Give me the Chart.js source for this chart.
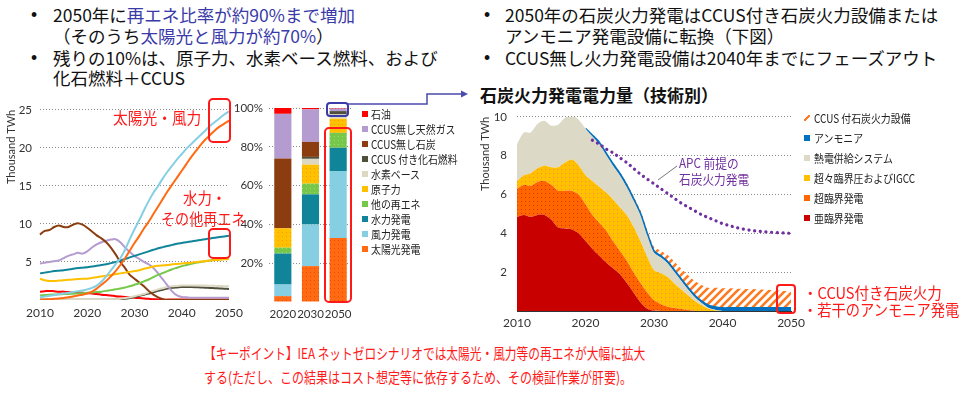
<!DOCTYPE html>
<html><head><meta charset="utf-8">
<script src="https://cdn.jsdelivr.net/npm/chart.js@4.4.1/dist/chart.umd.min.js"></script>
<style>
html,body{margin:0;padding:0;background:#fff;}
#root{position:relative;width:960px;height:398px;overflow:hidden;font-family:"Noto Sans CJK JP","Noto Sans",sans-serif;color:#111;}
.t{position:absolute;white-space:nowrap;line-height:20px;font-size:17.5px;}
.c{transform-origin:left center;}
canvas{position:absolute;}
.b{color:#3a3aa8;}
.r{color:#ff1a1a;}
.lg{position:absolute;white-space:nowrap;font-size:11.5px;line-height:14px;color:#222;transform-origin:left center;}
.sw{position:absolute;width:6px;height:6px;}
svg{position:absolute;left:0;top:0;}
</style></head>
<body>
<div id="root">
  <div class="t" style="left:31px;top:5px;font-family:'Liberation Sans'">•</div>
  <div class="t" style="left:53px;top:5px">2050年に<span class="b">再エネ比率が約90%まで増加</span></div>
  <div class="t" style="left:53px;top:26px">（そのうち<span class="b">太陽光と風力が約70%</span>）</div>
  <div class="t" style="left:31px;top:48px;font-family:'Liberation Sans'">•</div>
  <div class="t" style="left:53px;top:48px">残りの10%は、原子力、水素ベース燃料、および</div>
  <div class="t" style="left:53px;top:68px">化石燃料＋CCUS</div>

  <div class="t" style="left:484px;top:5px;font-family:'Liberation Sans'">•</div>
  <div class="t" style="left:505px;top:5px">2050年の石炭火力発電はCCUS付き石炭火力設備または</div>
  <div class="t" style="left:505px;top:26px">アンモニア発電設備に転換（下図）</div>
  <div class="t" style="left:484px;top:48px;font-family:'Liberation Sans'">•</div>
  <div class="t" style="left:505px;top:48px">CCUS無し火力発電設備は2040年までにフェーズアウト</div>
  <div class="t" style="left:480px;top:85px;font-size:17px;font-weight:bold">石炭火力発電電力量（技術別）</div>

  <canvas id="lineChart" width="250" height="230" style="left:0;top:95px"></canvas>
  <canvas id="barChart" width="135" height="230" style="left:225px;top:95px"></canvas>
  <canvas id="areaChart" width="330" height="235" style="left:480px;top:100px"></canvas>

  <div class="t c r" style="left:113px;top:107px;font-size:16px;transform:scaleX(0.92)">太陽光・風力</div>
  <div class="t c r" style="left:183px;top:187px;font-size:16px;transform:scaleX(0.9)">水力・</div>
  <div class="t c r" style="left:161px;top:208px;font-size:16px;transform:scaleX(0.88)">その他再エネ</div>

  <div class="t c" style="left:679px;top:153px;font-size:13px;color:#7030a0;transform:scaleX(0.9)">APC 前提の</div>
  <div class="t c" style="left:679px;top:169px;font-size:13px;color:#7030a0;transform:scaleX(0.9)">石炭火力発電</div>

  <div class="t c r" style="left:803px;top:282px;font-size:15.5px;transform:scaleX(0.94)">・CCUS付き石炭火力</div>
  <div class="t c r" style="left:803px;top:299px;font-size:15.5px;transform:scaleX(0.92)">・若干のアンモニア発電</div>

  <div class="t c r" style="left:204px;top:343px;font-size:15px;transform:scaleX(0.78)">【キーポイント】IEA ネットゼロシナリオでは太陽光・風力等の再エネが大幅に拡大</div>
  <div class="t c r" style="left:204px;top:367px;font-size:15px;transform:scaleX(0.8)">する(ただし、この結果はコスト想定等に依存するため、その検証作業が肝要)。</div>

  <svg width="960" height="398">
    <rect x="209" y="99" width="21" height="43" rx="4" fill="none" stroke="#ff1a1a" stroke-width="2"/>
    <rect x="209" y="229" width="21" height="29" rx="4" fill="none" stroke="#ff1a1a" stroke-width="2"/>
    <rect x="325" y="128" width="26" height="174" rx="4" fill="none" stroke="#ff1a1a" stroke-width="2"/>
    <rect x="777" y="285" width="18" height="28" rx="3" fill="none" stroke="#ff1a1a" stroke-width="2"/>
    <rect x="327" y="103" width="21" height="13" rx="3" fill="none" stroke="#3a3aa8" stroke-width="2"/>
    <polyline points="348,104 427,104 427,94 462,94" fill="none" stroke="#4a4ab0" stroke-width="1.5"/>
    <polygon points="468,94 461,90.5 461,97.5" fill="#4a4ab0"/>
    <line x1="658" y1="180" x2="677" y2="166" stroke="#777" stroke-width="1"/>
  </svg>
</div>
<script>
// ---------- Left chart: electricity generation by source (Thousand TWh) ----------
const years = [2010,2011,2012,2013,2014,2015,2016,2017,2018,2019,2020,2021,2022,2023,2024,2025,2026,2027,2028,2029,2030,2031,2032,2033,2034,2035,2036,2037,2038,2039,2040,2041,2042,2043,2044,2045,2046,2047,2048,2049,2050];
const yearTicks = [2010,2020,2030,2040,2050];

const windTWh     = [0.35,0.45,0.55,0.65,0.75,0.85,0.95,1.05,1.15,1.25,1.4, 1.6,1.9,2.4,3.1,3.9,4.7,5.5,6.6,8.0,9.3, 10.5,11.8,13.0,14.1,15.0,16.0,16.9,17.7,18.5,19.2, 19.9,20.5,21.1,21.7,22.3,22.9,23.4,23.9,24.4,24.8];
const solarTWh    = [0.05,0.08,0.1,0.15,0.2,0.25,0.35,0.45,0.6,0.7,0.85, 1.1,1.5,2.0,2.5,3.1,3.8,4.6,5.5,6.5,7.5, 8.4,9.4,10.3,11.3,12.3,13.3,14.3,15.2,16.1,17.0, 17.9,18.8,19.6,20.4,21.1,21.7,22.3,22.8,23.2,23.6];
const hydroTWh    = [3.5,3.6,3.7,3.8,3.85,3.9,4.0,4.1,4.2,4.25,4.3, 4.4,4.5,4.6,4.7,4.85,5.0,5.2,5.4,5.6,5.8, 6.0,6.2,6.4,6.6,6.8,6.95,7.1,7.25,7.4,7.5, 7.6,7.7,7.8,7.9,8.0,8.1,8.2,8.3,8.35,8.45];
const nuclearTWh  = [2.8,2.6,2.5,2.5,2.55,2.6,2.65,2.7,2.75,2.8,2.8, 2.9,3.0,3.1,3.2,3.3,3.4,3.5,3.6,3.7,3.8, 3.9,4.1,4.25,4.4,4.5,4.55,4.6,4.7,4.75,4.8, 4.85,4.9,5.0,5.05,5.1,5.2,5.25,5.3,5.35,5.4];
const otherRenTWh = [0.6,0.65,0.7,0.72,0.75,0.78,0.8,0.83,0.86,0.9,0.95, 1.0,1.05,1.1,1.2,1.3,1.4,1.5,1.65,1.8,2.0, 2.2,2.45,2.7,3.0,3.3,3.55,3.8,4.05,4.25,4.45, 4.6,4.75,4.9,5.0,5.1,5.2,5.3,5.35,5.4,5.45];
const coalTWh     = [8.6,9.1,9.2,9.6,9.8,9.6,9.6,9.9,10.1,9.9,9.5, 9.0,8.5,8.1,7.6,6.9,6.0,5.0,4.2,3.3,2.8, 2.3,1.8,1.2,0.7,0.35,0.1,0,0,0,0, 0,0,0,0,0,0,0,0,0,0];
const gasTWh      = [4.8,4.9,5.0,5.1,5.2,5.5,5.8,6.0,6.2,6.1,6.4, 6.9,7.3,7.6,7.8,7.95,8.0,7.6,6.9,6.3,5.8, 5.4,5.0,4.7,4.2,3.5,2.7,1.9,1.1,0.6,0.4, 0.35,0.3,0.3,0.3,0.3,0.3,0.3,0.3,0.3,0.3];
const hydrogenTWh = [0.05,0.05,0.05,0.05,0.05,0.05,0.05,0.05,0.05,0.05,0.05, 0.05,0.05,0.05,0.05,0.05,0.1,0.15,0.25,0.35,0.5, 0.65,0.8,1.0,1.2,1.4,1.55,1.7,1.8,1.85,1.9, 1.9,1.9,1.9,1.9,1.9,1.88,1.86,1.84,1.82,1.8];
const ccusFossilTWh = [0.02,0.02,0.02,0.02,0.02,0.02,0.02,0.02,0.02,0.02,0.02, 0.02,0.02,0.02,0.03,0.04,0.06,0.1,0.17,0.27,0.4, 0.55,0.7,0.85,1.0,1.2,1.35,1.5,1.6,1.65,1.7, 1.7,1.7,1.68,1.65,1.62,1.58,1.55,1.52,1.48,1.45];
const oilTWh      = [1.1,1.15,1.2,1.15,1.1,1.1,1.05,1.0,1.0,0.95,0.9, 0.85,0.8,0.7,0.65,0.6,0.5,0.45,0.4,0.35,0.3, 0.25,0.2,0.15,0.1,0.08,0.05,0.05,0.05,0.05,0.05, 0.05,0.05,0.05,0.05,0.05,0.05,0.05,0.05,0.05,0.05];

// ---------- Middle chart: share of generation (%) ----------
const shareYears = ['2020','2030','2050'];
const shareSolar    = [3, 18.5, 33];
const shareWind     = [6, 21.5, 34.5];
const shareHydro    = [16, 15.5, 12];
const shareOtherRen = [3, 5.5, 7.7];
const shareNuclear  = [10, 9.8, 7.3];
const shareHydrogen = [0, 3, 2.2];
const shareCcus     = [0, 1, 1.7];
const shareCoal     = [36, 7.7, 0];
const shareGas      = [23, 16.8, 1.3];
const shareOil      = [3, 0.7, 0.3];

// ---------- Right chart: coal power generation by technology (Thousand TWh) ----------
const subcritical   = [4.85,4.95,4.85,4.95,4.95,4.7,4.3,4.25,4.2,4.0,3.6, 3.2,2.85,2.5,2.2,1.9,1.45,0.95,0.45,0.12,0.02, 0,0,0,0,0,0,0,0,0,0, 0,0,0,0,0,0,0,0,0,0];
const supercritical = [1.45,1.55,1.6,1.7,1.75,1.8,1.9,1.95,2.0,2.0,1.9, 1.75,1.7,1.65,1.4,1.2,1.15,1.05,1.0,0.83,0.53, 0.35,0.22,0.15,0.1,0.05,0,0,0,0,0, 0,0,0,0,0,0,0,0,0,0];
const ultraIgcc     = [0.4,0.5,0.65,0.7,0.8,0.9,1.2,1.45,1.6,1.5,1.5, 1.75,1.85,1.95,2.15,2.25,2.35,2.35,2.15,1.85,1.55, 1.6,1.53,1.25,1.0,0.75,0.5,0.28,0.12,0.03,0, 0,0,0,0,0,0,0,0,0,0];
const chp           = [1.9,2.2,2.1,2.3,2.3,2.15,2.2,2.3,2.3,2.35,2.4, 2.3,2.2,1.95,1.75,1.65,1.45,1.35,1.35,1.1,0.9, 0.8,0.7,0.6,0.45,0.3,0.2,0.12,0.03,0.02,0, 0,0,0,0,0,0,0,0,0,0];
const ammonia       = [0,0,0,0,0,0,0,0,0,0,0, 0.05,0.08,0.08,0.08,0.08,0.08,0.08,0.08,0.08,0.08, 0.08,0.08,0.08,0.08,0.08,0.08,0.08,0.12,0.15,0.15, 0.15,0.15,0.15,0.15,0.15,0.15,0.15,0.15,0.15,0.15];
const ccusCoal      = [0,0,0,0,0,0,0,0,0,0,0, 0,0,0.03,0.05,0.08,0.12,0.15,0.18,0.2,0.22, 0.28,0.35,0.45,0.55,0.65,0.75,0.85,0.92,1.0,1.02, 1.02,1.0,1.0,0.98,0.97,0.95,0.93,0.9,0.88,0.85];
const apcCoal       = [null,null,null,null,null,null,null,null,null,null,null, 8.8,8.6,8.35,8.15,7.9,7.65,7.35,7.05,6.8,6.55, 6.3,6.05,5.8,5.55,5.35,5.15,4.95,4.8,4.65,4.5, 4.4,4.3,4.22,4.16,4.12,4.08,4.06,4.04,4.02,4.0];

const barLegend = ['石油','CCUS無し天然ガス','CCUS無し石炭','CCUS 付き化石燃料','水素ベース','原子力','他の再エネ','水力発電','風力発電','太陽光発電'];
const areaLegend = ['CCUS 付石炭火力設備','アンモニア','熱電併給システム','超々臨界圧およびIGCC','超臨界発電','亜臨界発電'];

// colours
const C = {oil:'#ff0000', gas:'#b49bd0', coal:'#8b3d10', ccus:'#4f4f3c', h2:'#dcd8c2', nuc:'#ffc000', oth:'#77c84a', hyd:'#10859a', wind:'#86cfe3', solar:'#ff6a13'};
const R = {sub:'#c80000', sup:'#ff6600', ultra:'#ffc000', chp:'#dcdac6', nh3:'#0070c0', ccus:'#ff7a20', apc:'#7030a0'};

function dots(base, dot){ const c=document.createElement('canvas'); c.width=4; c.height=4; const x=c.getContext('2d'); x.fillStyle=base; x.fillRect(0,0,4,4); x.fillStyle=dot; x.fillRect(1,1,1,1); return x.createPattern(c,'repeat'); }
function hatch(col){ const c=document.createElement('canvas'); c.width=8; c.height=8; const x=c.getContext('2d'); x.fillStyle='#fff'; x.fillRect(0,0,8,8); x.strokeStyle=col; x.lineWidth=2.6; x.beginPath(); x.moveTo(-2,10); x.lineTo(10,-2); x.moveTo(-2,2); x.lineTo(2,-2); x.moveTo(6,10); x.lineTo(10,6); x.stroke(); return x.createPattern(c,'repeat'); }

const tickFont = {family:'Lato', size:12};
const dotted = {display:false, dash:[1,2]};
const gridCol = ctx => (ctx.tick && ctx.tick.value === 0) ? 'rgba(0,0,0,0)' : '#8a8a8a';

Chart.defaults.font.family = 'Lato';
Chart.defaults.color = '#333';

// Left line chart
function ln(data, color){ return {data, borderColor:color, backgroundColor:color, borderWidth:2, pointRadius:0, tension:0.3, fill:false}; }
new Chart(document.getElementById('lineChart'), {
  type:'line',
  data:{labels:years, datasets:[
    ln(windTWh, C.wind), ln(solarTWh, C.solar), ln(hydroTWh, C.hyd), ln(nuclearTWh, C.nuc), ln(otherRenTWh, C.oth),
    ln(coalTWh, C.coal), ln(gasTWh, C.gas), ln(hydrogenTWh, C.h2), ln(ccusFossilTWh, C.ccus), ln(oilTWh, C.oil)
  ]},
  options:{
    animation:false, responsive:false, devicePixelRatio:1,
    layout:{padding:{top:12, right:21, left:0, bottom:0}},
    plugins:{legend:{display:false}, tooltip:{enabled:false}},
    scales:{
      x:{grid:{display:false, drawTicks:false}, border:{display:false},
         ticks:{autoSkip:false, maxRotation:0, padding:6, font:tickFont, color:'#333',
                callback:(v,i)=> yearTicks.includes(years[i]) ? String(years[i]) : ''},
         afterFit:s=>{s.height=25;}},
      y:{min:0, max:25, grid:{color:gridCol, drawTicks:false, lineWidth:1}, border:dotted,
         ticks:{stepSize:5, padding:8, font:{family:'Lato', size:11.5}, color:'#333', callback:v=> v===0 ? '' : v},
         title:{display:true, text:'Thousand TWh', align:'end', color:'#333', font:{family:'Lato', size:11, lineHeight:1}, padding:{top:6, bottom:0}},
         afterFit:s=>{s.width=40;}}
    }
  }
});

// Middle stacked bar chart
function br(data, color){ return {data, backgroundColor:color, borderWidth:0, categoryPercentage:1, barPercentage:0.62}; }
new Chart(document.getElementById('barChart'), {
  type:'bar',
  data:{labels:shareYears, datasets:[
    br(shareSolar, dots(C.solar,'#f04a00')), br(shareWind, C.wind), br(shareHydro, C.hyd), br(shareOtherRen, dots(C.oth,'#9ad870')),
    br(shareNuclear, dots(C.nuc,'#ff9a00')), br(shareHydrogen, C.h2), br(shareCcus, C.ccus), br(shareCoal, C.coal), br(shareGas, C.gas), br(shareOil, C.oil)
  ]},
  options:{
    animation:false, responsive:false, devicePixelRatio:1,
    layout:{padding:{top:13, right:8, left:0, bottom:0}},
    plugins:{legend:{display:false}, tooltip:{enabled:false}},
    scales:{
      x:{stacked:true, grid:{display:false, drawTicks:false}, border:{display:false},
         ticks:{padding:5, autoSkip:false, maxRotation:0, minRotation:0, font:{family:'Lato', size:11.5}, color:'#333'}, afterFit:s=>{s.height=23;}},
      y:{stacked:true, min:0, max:100, grid:{color:gridCol, drawTicks:false}, border:dotted,
         ticks:{stepSize:20, padding:6, font:{family:'Lato', size:11.5}, color:'#333', callback:v=> v===0 ? '' : v+'%'},
         afterFit:s=>{s.width=44;}}
    }
  }
});

// Right stacked area chart
function ar(data, color, fill){ return {data, backgroundColor:color, borderWidth:0, pointRadius:0, tension:0.25, fill, order:1}; }
const ammoniaDs = ar(ammonia, R.nh3, '-1');
ammoniaDs.borderWidth = 2; ammoniaDs.borderColor = R.nh3;
ammoniaDs.segment = {borderColor: ctx => ctx.p1DataIndex <= 10 ? 'rgba(0,0,0,0)' : R.nh3};
new Chart(document.getElementById('areaChart'), {
  type:'line',
  data:{labels:years, datasets:[
    ar(subcritical, R.sub, 'origin'),
    ar(supercritical, dots(R.sup,'#e03000'), '-1'),
    ar(ultraIgcc, dots(R.ultra,'#ff8a3a'), '-1'),
    ar(chp, R.chp, '-1'),
    ammoniaDs,
    ar(ccusCoal, hatch(R.ccus), '-1'),
    {data:apcCoal, stack:'apc', order:0, borderColor:R.apc, borderWidth:3.2, borderDash:[0.1,5.6], borderCapStyle:'round', pointRadius:0, fill:false, tension:0.3}
  ]},
  options:{
    animation:false, responsive:false, devicePixelRatio:1,
    layout:{padding:{top:14, right:16, left:0, bottom:0}},
    plugins:{legend:{display:false}, tooltip:{enabled:false}},
    scales:{
      x:{grid:{display:false, drawTicks:false}, border:{display:true, color:'#333', width:1},
         ticks:{autoSkip:false, maxRotation:0, padding:5, font:tickFont, color:'#333',
                callback:(v,i)=> yearTicks.includes(years[i]) ? String(years[i]) : ''},
         afterFit:s=>{s.height=24;}},
      y:{stacked:true, min:0, max:10, grid:{color:gridCol, drawTicks:false}, border:dotted,
         ticks:{stepSize:2, padding:10, font:{family:'Lato', size:11.5}, color:'#333', callback:v=> v===0 ? '' : v},
         title:{display:true, text:'Thousand TWh', align:'end', color:'#333', font:{family:'Lato', size:11, lineHeight:1}, padding:{top:0, bottom:0}},
         afterFit:s=>{s.width=37;}}
    }
  }
});

// HTML legends
const root = document.getElementById('root');
const barLegendColors = [C.oil, C.gas, C.coal, C.ccus, C.h2, C.nuc, C.oth, C.hyd, C.wind, C.solar];
barLegend.forEach((name, i) => {
  const cy = 114 + i * 15;
  const sw = document.createElement('div'); sw.className = 'sw';
  sw.style.cssText = `left:362px;top:${cy-3}px;background:${barLegendColors[i]}`;
  const tx = document.createElement('div'); tx.className = 'lg'; tx.textContent = name;
  tx.style.cssText = `left:371px;top:${cy-7}px;transform:scaleX(0.86)`;
  root.appendChild(sw); root.appendChild(tx);
});
const areaLegendColors = [null, R.nh3, R.chp, R.ultra, R.sup, R.sub];
areaLegend.forEach((name, i) => {
  const cy = 118 + i * 20;
  const sw = document.createElement('div'); sw.className = 'sw';
  if (i === 0) {
    sw.style.cssText = `left:804px;top:${cy-3}px;background:linear-gradient(135deg, transparent 35%, ${R.ccus} 35%, ${R.ccus} 65%, transparent 65%)`;
  } else {
    sw.style.cssText = `left:804px;top:${cy-3}px;background:${areaLegendColors[i]}`;
  }
  const tx = document.createElement('div'); tx.className = 'lg'; tx.textContent = name;
  tx.style.cssText = `left:814px;top:${cy-7}px;transform:scaleX(0.86)`;
  root.appendChild(sw); root.appendChild(tx);
});
</script>
</body></html>
